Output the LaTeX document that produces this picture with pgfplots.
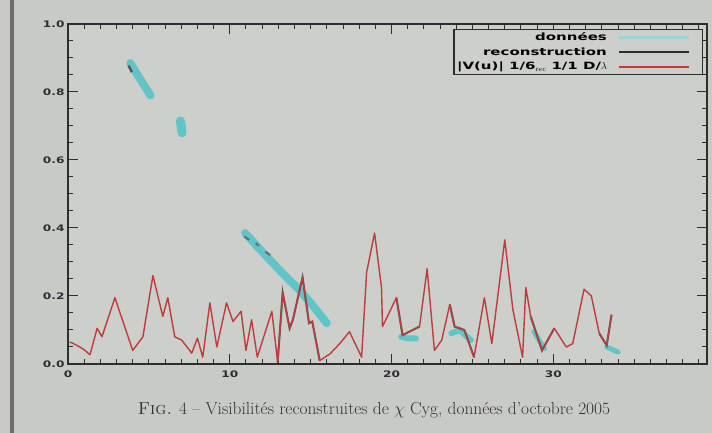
\documentclass[border=0pt]{standalone}
\usepackage{fontspec}
\usepackage{pgfplots}
\pgfplotsset{compat=1.18}
\newfontfamily\idl[FakeStretch=1.35]{DejaVu Sans}
\newfontfamily\idlw[FakeStretch=1.5]{DejaVu Sans}
\definecolor{bg}{RGB}{200,202,198}
\definecolor{pa}{RGB}{205,207,203}
\definecolor{redl}{RGB}{190,60,60}
\definecolor{cyanl}{RGB}{98,196,198}
\definecolor{cyanleg}{RGB}{150,212,216}
\definecolor{axc}{RGB}{45,45,50}
\begin{document}
\begin{tikzpicture}
\useasboundingbox (0,0) rectangle (712pt,433pt);
\fill[bg] (0,0) rectangle (712pt,433pt);
\fill[black!45!bg] (10pt,0) rectangle (14pt,433pt);
\begin{axis}[
  at={(68pt,69pt)}, anchor=south west, scale only axis,
  width=639pt, height=340pt,
  xmin=0, xmax=39.5, ymin=0, ymax=1,
  xtick={0,10,20,30,40}, xticklabels={0,10,20,30,40},
  ytick={0,0.2,0.4,0.6,0.8,1.0}, yticklabels={0.0,0.2,0.4,0.6,0.8,1.0},
  minor x tick num=9, minor y tick num=3,
  major tick length=10pt, minor tick length=5pt,
  tick style={axc, line width=1pt},
  axis line style={axc, line width=1.3pt},
  axis background/.style={fill=pa},
  ticklabel style={font=\idl\bfseries\fontsize{9}{10}\selectfont, text=axc},
  xticklabel style={yshift=-3pt},
  legend style={at={(rel axis cs:0.9937,0.985)}, anchor=north east, draw=axc,
    line width=1.2pt, fill=pa, font=\idlw\bfseries\fontsize{10}{10}\selectfont,
    inner sep=1pt, row sep=1.5pt},
  legend plot pos=right, legend cell align=right,
  legend image code/.code={\fill[pa, opacity=0] (0pt,-1pt) rectangle (90pt,1pt);\draw[#1] (9pt,0pt) -- (79pt,0pt);},
]
\addlegendimage{cyanleg, line width=2.5pt}\addlegendentry{données}
\addlegendimage{axc, line width=2.5pt}\addlegendentry{reconstruction}
\addlegendimage{redl, line width=2.5pt}\addlegendentry{|V(u)| 1/6$_{\mathrm{rec}}$ 1/1 D/$\lambda$}

% data (cyan band)
\addplot[cyanl, line width=8pt, line cap=round, forget plot] coordinates {(3.85,0.885)(4.3,0.85)(4.7,0.82)(5.1,0.79)};
\addplot[cyanl, line width=9pt, line cap=round, forget plot] coordinates {(6.95,0.715)(7.05,0.68)};
\addplot[cyanl, line width=8pt, line cap=round, forget plot] coordinates {(10.95,0.385)(12.2,0.32)(13.4,0.26)(14.3,0.218)(15.25,0.165)(16.0,0.12)};
\addplot[cyanl, line width=6pt, line cap=round, forget plot] coordinates {(20.6,0.08)(21.1,0.075)(21.5,0.075)};
\addplot[cyanl, line width=6pt, line cap=round, forget plot] coordinates {(23.7,0.09)(24.2,0.1)(24.9,0.07)};
\addplot[cyanl, line width=5pt, line cap=round, forget plot] coordinates {(28.8,0.095)(29.45,0.045)};
\addplot[cyanl, line width=5pt, line cap=round, forget plot] coordinates {(33.3,0.05)(34.0,0.035)};

% reconstruction (black)
\addplot[axc!80, line width=2.5pt, forget plot] coordinates {(3.75,0.878)(3.95,0.858)};
\addplot[axc!70, line width=2pt, forget plot] coordinates {(10.9,0.375)(11.2,0.365)};
\addplot[axc!70, line width=2pt, forget plot] coordinates {(11.6,0.355)(11.8,0.348)};
\addplot[axc!70, line width=2pt, forget plot] coordinates {(12.2,0.33)(12.5,0.32)};
\addplot[axc!80, line width=2pt, forget plot] coordinates {(12.96,0.005)(13.27,0.21)(13.7,0.105)(13.9,0.13)(14.5,0.255)(14.9,0.12)(15.1,0.125)(15.56,0.01)};
\addplot[axc!80, line width=2pt, forget plot] coordinates {(20.3,0.195)(20.68,0.085)(21.73,0.11)};
\addplot[axc!80, line width=2pt, forget plot] coordinates {(23.6,0.175)(23.9,0.11)(24.5,0.10)(25.1,0.02)};
\addplot[axc!80, line width=2pt, forget plot] coordinates {(28.6,0.14)(29.3,0.04)(30.06,0.105)};
\addplot[axc!80, line width=2pt, forget plot] coordinates {(32.84,0.09)(33.3,0.055)(33.6,0.145)};

% red curve
\addplot[redl, line width=1.4pt, line join=round, forget plot] coordinates {
(0.1,0.065)(0.25,0.062)(0.74,0.05)(1.05,0.04)(1.36,0.027)(1.8,0.105)(2.1,0.08)
(2.9,0.195)(4.0,0.04)(4.63,0.08)(5.25,0.26)(5.86,0.14)(6.17,0.195)(6.6,0.08)
(7.03,0.07)(7.65,0.032)(8.0,0.076)(8.33,0.02)(8.77,0.18)(9.2,0.05)(9.8,0.18)
(10.2,0.125)(10.7,0.155)(11.0,0.04)(11.35,0.13)(11.7,0.02)(12.6,0.155)(12.96,0.005)
(13.27,0.21)(13.7,0.105)(13.9,0.13)(14.5,0.255)(14.9,0.12)(15.1,0.125)(15.56,0.01)
(16.2,0.03)(16.8,0.06)(17.4,0.095)(18.15,0.02)(18.46,0.27)(18.95,0.385)(19.38,0.225)
(19.44,0.11)(20.3,0.195)(20.68,0.085)(21.73,0.11)(22.2,0.28)(22.65,0.04)(23.1,0.07)
(23.6,0.175)(23.9,0.11)(24.5,0.10)(25.1,0.02)(25.74,0.195)(26.2,0.06)(27.0,0.365)
(27.5,0.16)(28.1,0.02)(28.3,0.225)(28.6,0.14)(29.3,0.04)(30.06,0.105)(30.8,0.05)
(31.2,0.06)(31.9,0.22)(32.35,0.2)(32.84,0.09)(33.3,0.055)(33.6,0.145)};
\end{axis}
\node[font=\fontsize{17.4}{19}\selectfont, text=black!80] at (374pt,23pt)
  {\textsc{Fig.} 4 -- Visibilités reconstruites de $\chi$ Cyg, données d'octobre 2005};
\end{tikzpicture}
\end{document}
